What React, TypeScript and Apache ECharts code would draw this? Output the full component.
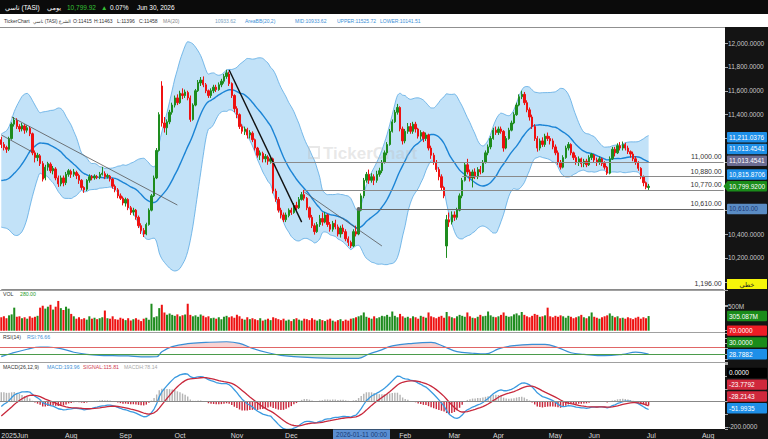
import React, { useEffect, useRef } from "react";
import * as echarts from "echarts";

const FONT = "'Liberation Sans', 'DejaVu Sans', Arial, sans-serif";
const UP = "#1e8c1e";
const DOWN = "#ee1111";

// ---- time axis (trading days per month) ----
const monthLabels = ["2025Jun", "Jul", "Aug", "Sep", "Oct", "Nov", "Dec", "Jan", "Feb", "Mar", "Apr", "May", "Jun", "Jul", "Aug"];
const monthTradingDays = [4, 23, 21, 21, 22, 21, 23, 21, 19, 17, 22, 15, 22, 22, 7];
const hiddenMonthLabels = [1, 7]; // Jul 2025 (crowded) and Jan (under the crosshair tag)

// ---- daily candles [open, close, low, high] ----
const candles: number[][] = [
  [11190,11150,11120,11215],[11150,11125,11100,11170],[11125,11110,11080,11140],[11110,11200,11095,11215],[11200,11320,11190,11335],
  [11320,11355,11300,11380],[11350,11300,11280,11370],[11300,11280,11255,11320],[11280,11310,11260,11330],[11305,11270,11240,11320],
  [11270,11290,11250,11310],[11285,11240,11220,11300],[11240,11080,11060,11250],[11080,11040,11000,11100],[11040,11060,11010,11080],
  [11055,10990,10970,11070],[10990,10860,10840,11010],[10870,10960,10850,10980],[10960,10990,10930,11005],[10985,10930,10910,11000],
  [10930,10950,10900,10970],[10945,10870,10850,10960],[10870,10820,10795,10890],[10820,10870,10800,10890],[10870,10830,10800,10890],
  [10830,10900,10810,10920],[10900,10930,10880,10945],[10925,10900,10870,10940],[10900,10920,10880,10945],[10915,10890,10860,10930],
  [10890,10850,10820,10905],[10850,10790,10770,10860],[10790,10770,10745,10800],[10775,10850,10760,10860],[10850,10880,10830,10900],
  [10880,10870,10850,10895],[10870,10885,10855,10900],[10880,10875,10860,10895],[10875,10900,10860,10920],[10900,10910,10890,10962],
  [10905,10880,10860,10925],[10880,10890,10865,10905],[10885,10860,10840,10895],[10860,10800,10780,10870],[10800,10770,10750,10815],
  [10770,10720,10700,10785],[10720,10700,10685,10740],[10700,10660,10640,10715],[10660,10690,10630,10705],[10690,10620,10600,10700],
  [10620,10580,10560,10635],[10585,10600,10555,10620],[10600,10540,10520,10610],[10540,10470,10450,10555],[10470,10430,10400,10490],
  [10430,10400,10375,10450],[10400,10480,10390,10495],[10480,10600,10470,10615],[10600,10720,10590,10735],[10720,10870,10710,10890],
  [10870,11100,10860,11120],[11100,11400,11090,11420],[11640,11330,11300,11680],[11330,11290,11250,11380],[11290,11340,11230,11360],
  [11340,11420,11320,11440],[11420,11480,11400,11500],[11480,11540,11460,11560],[11540,11500,11480,11570],[11500,11580,11490,11600],
  [11575,11560,11530,11620],[11560,11590,11540,11610],[11585,11540,11520,11600],[11540,11360,11340,11560],[11360,11480,11350,11495],
  [11480,11600,11470,11615],[11600,11670,11590,11690],[11665,11690,11640,11715],[11690,11650,11630,11720],[11650,11600,11580,11665],
  [11600,11560,11540,11610],[11560,11600,11540,11620],[11600,11630,11580,11650],[11630,11610,11590,11650],[11610,11650,11600,11670],
  [11650,11680,11630,11700],[11680,11720,11660,11740],[11720,11750,11700,11775],[11740,11660,11640,11760],[11660,11560,11540,11670],
  [11560,11450,11420,11570],[11450,11400,11370,11470],[11400,11300,11280,11410],[11300,11260,11240,11320],[11260,11280,11230,11300],
  [11275,11230,11200,11290],[11230,11250,11200,11270],[11245,11190,11170,11260],[11190,11120,11100,11200],[11120,11060,11040,11130],
  [11060,11080,11020,11100],[11075,11030,11000,11090],[11030,11050,11000,11070],[11045,11010,10980,11060],[11010,11030,10990,11045],
  [11030,10760,10740,11040],[10760,10690,10670,10780],[10690,10600,10580,10710],[10600,10560,10530,10620],[10560,10520,10500,10580],
  [10520,10560,10500,10580],[10555,10600,10540,10615],[10600,10580,10560,10620],[10580,10640,10570,10660],[10640,10620,10600,10670],
  [10620,10690,10610,10710],[10690,10730,10680,10752],[10730,10700,10680,10770],[10700,10620,10600,10710],[10620,10540,10520,10630],
  [10540,10470,10450,10560],[10470,10420,10395,10490],[10420,10480,10410,10500],[10480,10530,10460,10560],[10530,10500,10470,10580],
  [10500,10560,10490,10585],[10560,10480,10460,10570],[10480,10440,10420,10500],[10440,10490,10420,10510],[10490,10460,10440,10520],
  [10460,10400,10380,10480],[10400,10450,10370,10470],[10450,10420,10400,10480],[10420,10360,10340,10440],[10360,10330,10300,10380],
  [10330,10300,10283,10345],[10300,10420,10290,10440],[10420,10400,10380,10470],[10400,10600,10390,10620],[10600,10720,10590,10740],
  [10720,10850,10700,10870],[10850,10900,10830,10920],[10900,10850,10820,10940],[10850,10880,10830,10910],[10880,10850,10810,10900],
  [10850,10900,10830,10930],[10900,10930,10880,10955],[10930,11000,10910,11020],[11000,11080,10990,11100],[11080,11150,11060,11170],
  [11150,11260,11140,11280],[11260,11340,11250,11360],[11340,11420,11330,11440],[11420,11460,11400,11490],[11460,11280,11260,11470],
  [11280,11180,11150,11300],[11180,11260,11160,11280],[11260,11300,11240,11330],[11300,11260,11240,11330],[11260,11320,11240,11340],
  [11320,11280,11250,11340],[11280,11220,11200,11290],[11220,11250,11190,11270],[11250,11200,11170,11260],[11200,11230,11180,11250],
  [11230,11120,11100,11240],[11120,11060,11030,11140],[11060,11000,10980,11080],[11000,10940,10920,11020],[10940,10880,10850,10960],
  [10880,10790,10760,10900],[10790,10720,10700,10800],[10300,10520,10200,10560],[10520,10500,10460,10580],[10500,10560,10480,10590],
  [10560,10540,10510,10590],[10540,10600,10520,10620],[10600,10720,10590,10740],[10720,10850,10700,10870],[10850,10980,10840,11000],
  [10980,10920,10900,11030],[10920,10870,10840,10940],[10870,10920,10790,10940],[10920,10880,10860,10950],[10880,10940,10860,10960],
  [10940,10920,10900,10970],[10920,11000,10910,11020],[11000,11080,10990,11100],[11080,11130,11060,11150],[11130,11200,11110,11220],
  [11200,11270,11190,11290],[11270,11250,11230,11300],[11250,11280,11230,11300],[11280,11260,11240,11300],[11260,11120,11090,11270],
  [11120,11200,11110,11220],[11200,11270,11190,11290],[11270,11330,11260,11350],[11330,11400,11320,11420],[11400,11480,11390,11500],
  [11480,11550,11470,11570],[11550,11570,11530,11600],[11570,11500,11480,11590],[11500,11440,11420,11520],[11440,11380,11350,11460],
  [11380,11300,11280,11400],[11300,11200,11180,11320],[11200,11120,11090,11220],[11120,11180,11100,11200],[11180,11150,11130,11210],
  [11150,11220,11130,11240],[11220,11200,11180,11250],[11200,11180,11150,11220],[11180,11130,11110,11200],[11130,11080,11060,11150],
  [11080,11000,10980,11100],[11000,10960,10940,11020],[10960,11040,10950,11060],[11040,11120,11030,11140],[11120,11150,11100,11170],
  [11150,11080,11060,11160],[11080,11040,11020,11090],[11040,11000,10980,11060],[11000,11030,10970,11050],[11030,10990,10960,11040],
  [10990,11010,10960,11030],[11010,10980,10960,11030],[10980,11040,10970,11060],[11040,11070,11020,11080],[11060,11020,11000,11070],
  [11020,11000,10970,11040],[11000,11030,10980,11050],[11030,10990,10970,11040],[10990,10960,10940,11010],[10960,10910,10895,10970],
  [10910,11030,10900,11050],[11030,11110,11020,11130],[11110,11080,11050,11130],[11080,11140,11070,11160],[11140,11120,11100,11170],
  [11120,11150,11100,11175],[11150,11120,11100,11165],[11120,11090,11070,11140],[11090,11070,11040,11100],[11070,11030,11010,11090],
  [11030,11000,10980,11050],[11000,10950,10930,11010],[10950,10880,10860,10960],[10880,10830,10800,10890],[10830,10792,10775,10840],
  [10790,10799.92,10770,10820]
];

// closes of the sessions before the window (only used to seed the indicators)
const preCloses = [11450,11420,11400,11380,11350,11320,11300,11280,11250,11200,11150,
  11050,11020,10980,10950,10900,10850,10780,10700,10620,10560,10520,10580,10650,10720,10800,10900,11000,11080,11150];

// ---- volume (millions) ----
const volumes = [
  280,300,260,320,340,480,290,300,260,280, 250,300,270,290,310,480,520,460,500,540,
  440,500,620,470,430,500,460,350,300,250, 280,240,260,230,300,250,270,240,260,280,
  420,260,250,300,240,230,270,250,220,260, 210,240,260,230,200,250,270,230,560,280,
  300,470,540,380,330,360,330,310,340,300, 320,340,560,330,300,320,290,340,310,280,
  300,260,270,250,280,240,290,310,280,300, 270,330,300,250,230,280,240,260,240,220,
  260,210,230,250,220,280,260,240,220,250, 210,230,200,240,260,230,210,250,240,220,
  260,230,210,240,220,200,230,250,210,190, 220,240,200,230,210,250,260,280,300,320,
  380,290,270,250,300,260,280,310,300,330, 290,400,310,280,350,300,270,290,260,300,
  280,250,310,290,270,380,300,280,260,290, 310,270,390,300,280,260,300,330,310,290,
  380,300,270,260,290,330,300,310,400,320, 290,280,300,330,380,310,290,300,340,360,
  320,390,330,300,280,310,350,330,290,300, 320,480,300,280,310,290,320,300,270,310,
  290,260,280,300,330,280,260,300,380,290, 270,250,280,300,320,360,310,280,300,260,
  270,250,280,260,240,270,290,250,280,260, 305.087
];

// ---- RSI(14): [session index, value] ----
const rsiPoints: number[][] = [
  [0,15],[4,34],[10,57],[15,70],[18,70],[23,61],[28,40],[33,28],[38,22],[43,20],[49,18.6],[54,13],[60,14],[62,43],
  [66,72],[72,89],[79,96],[87,100],[92,91],[97,62],[103,37],[108,22],[113,15],[120,9],[128,5],[138,5],[142,30],
  [146,49],[151,76],[159,91],[166,96],[171,72],[176,43],[182,34],[187,30],[192,59],[197,76],[205,85],[210,85],
  [215,66],[220,37],[225,28],[233,20],[240,28],[245,40],[250,28.7882]
];

// ---- drawings ----
const hLines = [
  { value: 11000, from: 104, text: "11,000.00" },
  { value: 10880, from: 178, text: "10,880.00" },
  { value: 10770, from: 117, text: "10,770.00" },
  { value: 10610, from: 138, text: "10,610.00", dot: true },
  { value: 9940, from: 0, text: "1,196.00" },
];
const trendLines = [
  { from: [0, 11230], to: [12, 11087], width: 0.8, color: "#555" },
  { from: [4, 11380], to: [68, 10643], width: 0.8, color: "#555" },
  { from: [88, 11774], to: [116, 10500], width: 1.4, color: "#111" },
  { from: [117, 10752], to: [147, 10300], width: 0.8, color: "#555" },
];

// ---- right-axis value tags (top to bottom) ----
const priceTags = [
  { value: 11211.0376, text: "11,211.0376", bg: "#1e8fe8", fg: "#fff" },
  { value: 11013.4541, text: "11,013.4541", bg: "#1e8fe8", fg: "#fff" },
  { value: 11013.4541, text: "11,013.4541", bg: "#6c6c92", fg: "#fff" },
  { value: 10815.8706, text: "10,815.8706", bg: "#1e8fe8", fg: "#fff" },
  { value: 10799.92, text: "10,799.9200", bg: "#1a8c1a", fg: "#fff", arrow: true },
  { value: 10610, text: "10,610.00", bg: "#5a8cc4", fg: "#1a3a78" },
];
const volumeTags = [{ value: 305.087, text: "305.087M", bg: "#1a8c1a", fg: "#fff" }];
const rsiTags = [
  { value: 70, text: "70.0000", bg: "#ee1c25", fg: "#fff" },
  { value: 30, text: "30.0000", bg: "#1a8c1a", fg: "#fff" },
  { value: 28.7882, text: "28.7882", bg: "#1e8fe8", fg: "#fff" },
];
const macdTags = [
  { value: 0, text: "0.0000", bg: "#000", fg: "#fff" },
  { value: -23.7792, text: "-23.7792", bg: "#d0283c", fg: "#fff" },
  { value: -28.2143, text: "-28.2143", bg: "#d0283c", fg: "#fff" },
  { value: -51.9935, text: "-51.9935", bg: "#1e8fe8", fg: "#fff" },
];

// ---- header texts ----
const headerRow1 = [
  { x: 5, text: "تاسي (TASI)", color: "#fff" },
  { x: 47, text: "يومي", color: "#fff" },
  { x: 67, text: "10,799.92", color: "#35c035" },
  { x: 101, text: "▲", color: "#35c035" },
  { x: 110, text: "0.07%", color: "#fff" },
  { x: 137, text: "Jun 30, 2026", color: "#fff" },
];
const headerRow2 = [
  { x: 4, text: "TickerChart", color: "#333" },
  { x: 33, text: "تاسي (TASI) الشرع", color: "#333" },
  { x: 73, text: "O:11415", color: "#333" },
  { x: 94, text: "H:11463", color: "#333" },
  { x: 117, text: "L:11396", color: "#333" },
  { x: 139, text: "C:11458", color: "#333" },
  { x: 163, text: "MA(20)", color: "#888" },
  { x: 215, text: "10933.62", color: "#7a9fc0" },
  { x: 245, text: "AreaBB(20,2)", color: "#3d8fd6" },
  { x: 295, text: "MID:10933.62", color: "#3d8fd6" },
  { x: 337, text: "UPPER:11525.72", color: "#3d8fd6" },
  { x: 380, text: "LOWER:10141.51", color: "#3d8fd6" },
];
const panelTitles = [
  { x: 3, y: 294, text: "VOL", color: "#333" },
  { x: 20, y: 294, text: "280.00", color: "#2a9a2a" },
  { x: 3, y: 337, text: "RSI(14)", color: "#333" },
  { x: 27, y: 337, text: "RSI:76.66", color: "#3d8fd6" },
  { x: 3, y: 367, text: "MACD(26,12,9)", color: "#333" },
  { x: 47, y: 367, text: "MACD:193.96", color: "#3d8fd6" },
  { x: 83, y: 367, text: "SIGNAL:115.81", color: "#d04050" },
  { x: 124, y: 367, text: "MACDH:78.14", color: "#aaa" },
];

// ---- categories ----
const categories: string[] = [];
const monthStart: Record<number, string> = {};
monthLabels.forEach((m, mi) => {
  for (let d = 0; d < monthTradingDays[mi]; d++) {
    if (d === 0 && hiddenMonthLabels.indexOf(mi) < 0) monthStart[categories.length] = m;
    categories.push(mi + "-" + d);
  }
});

const fmt4 = (v: number) => v.toLocaleString("en-US", { minimumFractionDigits: 4, maximumFractionDigits: 4 });

function ema(arr: number[], n: number) {
  const k = 2 / (n + 1);
  const out = [arr[0]];
  for (let i = 1; i < arr.length; i++) out.push(arr[i] * k + out[i - 1] * (1 - k));
  return out;
}

const priceFmt = (v: number) => (v >= 10000 && v <= 12000 ? fmt4(v) : "");
const volFmt = (v: number) => (v === 500 ? "500M" : "");
const rsiFmt = (v: number) => (v === 0 ? "0.0000" : "");
const macdFmt = (v: number) => (v === 0 ? "0.0000" : v === -200 ? "-200.0000" : "");

function buildOption(): any {
  const n = candles.length;
  const closes = candles.map((c) => c[1]);
  const all = preCloses.concat(closes);
  const P = preCloses.length;
  const mid: number[] = [], lower: number[] = [], band: number[] = [];
  for (let i = 0; i < n; i++) {
    const w = all.slice(i + P - 19, i + P + 1);
    const m = w.reduce((a, b) => a + b, 0) / w.length;
    const sd = Math.sqrt(w.reduce((a, b) => a + (b - m) * (b - m), 0) / w.length);
    mid.push(m);
    lower.push(m - 2 * sd);
    band.push(4 * sd);
  }
  const e12 = ema(all, 12), e26 = ema(all, 26);
  const macdAll = e12.map((v, i) => v - e26[i]);
  const sigAll = ema(macdAll, 9);
  const macd = macdAll.slice(P), signal = sigAll.slice(P);
  const hist = macd.map((v, i) => v - signal[i]);
  const last = categories.length - 1;

  const grid = (top: number, height: number) => ({ left: 0, right: 43, top, height, containLabel: false, outerBoundsMode: "none" });
  const xAx = (gi: number, show: boolean) => ({
    type: "category", gridIndex: gi, data: categories, boundaryGap: true, show,
    axisLine: { show: false }, axisTick: { show: false }, splitLine: { show: false }, z: 10,
    axisLabel: {
      show, color: "#d8d8d8", fontSize: 7, margin: 3, fontFamily: FONT, alignMinLabel: "left",
      interval: (i: number) => monthStart[i] !== undefined,
      formatter: (_v: string, i: number) => monthStart[i] || "",
    },
  });
  const yAx = (gi: number, min: number, max: number, formatter: (v: number) => string, interval?: number) => ({
    type: "value", gridIndex: gi, position: "right", min, max, interval, z: 10,
    splitLine: { show: false }, axisLine: { show: false },
    axisTick: { show: true, length: 3, lineStyle: { color: "#aaa" } },
    axisLabel: { color: "#c8c8c8", fontSize: 6.5, margin: 3, fontFamily: FONT, formatter },
  });

  const mlData: any[] = [];
  trendLines.forEach((t) => mlData.push([
    { coord: t.from, lineStyle: { color: t.color, width: t.width, type: "solid" } },
    { coord: t.to },
  ]));
  hLines.forEach((h) => mlData.push([
    {
      coord: [h.from, h.value], symbol: h.dot ? "circle" : "none", symbolSize: 4,
      lineStyle: { color: h.dot ? "#666" : "#8a8a8a", width: 1, type: "solid" },
      label: { show: true, position: "insideEndTop", formatter: h.text, color: "#333", fontSize: 7, fontFamily: FONT, distance: 2 },
    },
    { coord: [last, h.value], symbol: "none" },
  ]));

  return {
    animation: false,
    textStyle: { fontFamily: FONT },
    grid: [grid(19.12, 286.56), grid(289.9, 40.8), grid(333, 29), grid(363, 66)],
    xAxis: [xAx(0, false), xAx(1, false), xAx(2, false), xAx(3, true)],
    yAxis: [
      yAx(0, 9800, 12200, priceFmt, 200),
      yAx(1, 0, 850, volFmt, 500),
      yAx(2, -16, 150, rsiFmt),
      yAx(3, -216, 306, macdFmt),
    ],
    series: [
      {
        type: "line", name: "bbLower", xAxisIndex: 0, yAxisIndex: 0, data: lower, stack: "bb", smooth: 0.3,
        symbol: "none", lineStyle: { color: "#5aa9e3", width: 0.8 }, z: 1, silent: true,
      },
      {
        type: "line", name: "bbBand", xAxisIndex: 0, yAxisIndex: 0, data: band, stack: "bb", smooth: 0.3,
        symbol: "none", lineStyle: { color: "#5aa9e3", width: 0.8 }, areaStyle: { color: "#c2e2f8", opacity: 1 }, z: 1, silent: true,
      },
      {
        type: "line", name: "MA20", xAxisIndex: 0, yAxisIndex: 0, data: mid, smooth: 0.3,
        symbol: "none", lineStyle: { color: "#1b84d5", width: 1.4 }, z: 2, silent: true,
      },
      {
        type: "candlestick", name: "TASI", xAxisIndex: 0, yAxisIndex: 0, data: candles, barWidth: "72%", z: 4,
        itemStyle: { color: UP, color0: DOWN, borderColor: UP, borderColor0: DOWN, borderWidth: 1 },
        markLine: { silent: true, symbol: ["none", "none"], animation: false, label: { show: false }, data: mlData },
      },
      {
        type: "bar", name: "VOL", xAxisIndex: 1, yAxisIndex: 1, barWidth: "78%",
        data: volumes.map((v, i) => ({ value: v, itemStyle: { color: candles[i][1] >= candles[i][0] ? UP : DOWN } })),
      },
      {
        type: "line", name: "RSIup", xAxisIndex: 2, yAxisIndex: 2, smooth: 0.4, symbol: "none", z: 2,
        data: rsiPoints.map(([i, v]) => [i, Math.max(v, 70)]), lineStyle: { width: 0 },
        areaStyle: { origin: 70, color: "rgba(238,150,150,0.6)" },
      },
      {
        type: "line", name: "RSIdn", xAxisIndex: 2, yAxisIndex: 2, smooth: 0.4, symbol: "none", z: 2,
        data: rsiPoints.map(([i, v]) => [i, Math.min(v, 30)]), lineStyle: { width: 0 },
        areaStyle: { origin: 30, color: "rgba(140,200,140,0.55)" },
      },
      {
        type: "line", name: "RSI", xAxisIndex: 2, yAxisIndex: 2, smooth: 0.4, symbol: "none", z: 3,
        data: rsiPoints, lineStyle: { color: "#3a8fd6", width: 1.2 },
        markLine: {
          silent: true, symbol: ["none", "none"], label: { show: false },
          data: [
            { yAxis: 70, lineStyle: { color: "#e06666", width: 1, type: "solid" } },
            { yAxis: 30, lineStyle: { color: "#4b9b4b", width: 1, type: "solid" } },
          ],
        },
      },
      {
        type: "bar", name: "MACDH", xAxisIndex: 3, yAxisIndex: 3, barWidth: "55%",
        data: hist.map((v) => ({ value: v, itemStyle: { color: v >= 0 ? "#b4b4b4" : "#c8283c" } })),
        markLine: {
          silent: true, symbol: ["none", "none"], label: { show: false },
          data: [{ yAxis: 0, lineStyle: { color: "#888", width: 1, type: "solid" } }],
        },
      },
      {
        type: "line", name: "MACD", xAxisIndex: 3, yAxisIndex: 3, data: macd, symbol: "none", z: 3,
        lineStyle: { color: "#3a9ae0", width: 1.3 },
      },
      {
        type: "line", name: "SIGNAL", xAxisIndex: 3, yAxisIndex: 3, data: signal, symbol: "none", z: 3,
        lineStyle: { color: "#c8283c", width: 1.3 },
      },
    ],
  };
}

function tagEls(chart: any, yAxisIndex: number, tags: any[]) {
  const els: any[] = [];
  const centers: number[] = [];
  let prev = Infinity;
  for (let k = tags.length - 1; k >= 0; k--) {
    const t = tags[k];
    const yTrue = chart.convertToPixel({ yAxisIndex }, t.value) as number;
    const cy = Math.min(yTrue, prev - 11.8);
    prev = cy;
    centers.push(cy);
    els.push({ type: "rect", shape: { x: 727, y: cy - 5.2, width: 40, height: 10.4, r: 1 }, style: { fill: t.bg }, z: 60 });
    if (t.arrow) {
      els.push({ type: "polygon", shape: { points: [[723.5, cy], [727.5, cy - 5.2], [727.5, cy + 5.2]] }, style: { fill: t.bg }, z: 60 });
    }
    els.push({
      type: "text", x: 729, y: cy, z: 61,
      style: { text: t.text, fill: t.fg, fontSize: 6.5, fontFamily: FONT, align: "left", verticalAlign: "middle" },
    });
  }
  return { els, centers };
}

// hide the tick labels that sit under a value tag
function maskFmt(chart: any, yAxisIndex: number, base: (v: number) => string, centers: number[]) {
  return (v: number) => {
    const s = base(v);
    if (!s) return s;
    const y = chart.convertToPixel({ yAxisIndex }, v) as number;
    return centers.some((c) => Math.abs(c - y) < 8) ? "" : s;
  };
}

export default function App() {
  const ref = useRef<HTMLDivElement>(null);
  useEffect(() => {
    const chart = echarts.init(ref.current!, null, { renderer: "svg" });
    chart.setOption(buildOption());

    const txt = (x: number, y: number, text: string, fill: string, size: number, z = 52) => ({
      type: "text", x, y, z, style: { text, fill, fontSize: size, fontFamily: FONT, align: "left", verticalAlign: "middle" },
    });
    const hline = (y: number, x2 = 725, color = "#a0a0a0") => ({
      type: "line", z: 6, shape: { x1: 0, y1: y, x2, y2: y }, style: { stroke: color, lineWidth: 1 },
    });
    const pt = tagEls(chart, 0, priceTags);
    const vt = tagEls(chart, 1, volumeTags);
    const rt = tagEls(chart, 2, rsiTags);
    const mt = tagEls(chart, 3, macdTags);
    const badgeY = 284;

    const els: any[] = [
      { type: "rect", z: 50, shape: { x: 0, y: 0, width: 768, height: 14 }, style: { fill: "#0b0b0b" } },
      { type: "rect", z: 50, shape: { x: 0, y: 14, width: 768, height: 13 }, style: { fill: "#ffffff" } },
      { type: "rect", z: 5, shape: { x: 725, y: 27, width: 43, height: 402 }, style: { fill: "#141414" } },
      { type: "rect", z: 5, shape: { x: 0, y: 429, width: 768, height: 10 }, style: { fill: "#141414" } },
      hline(27.5, 725, "#909090"),
      hline(290.5),
      hline(332.5),
      hline(362.5),
      { type: "rect", z: 3, shape: { x: 309, y: 147, width: 10, height: 11 }, style: { fill: "none", stroke: "rgba(190,190,190,0.35)", lineWidth: 2 } },
      {
        type: "text", x: 323, y: 153, z: 3,
        style: { text: "TickerChart", fill: "rgba(190,190,190,0.35)", fontSize: 17, fontWeight: "bold", fontFamily: FONT, align: "left", verticalAlign: "middle" },
      },
      { type: "rect", z: 60, shape: { x: 727, y: badgeY - 5, width: 40, height: 10 }, style: { fill: "#f5f50a" } },
      { type: "text", x: 747, y: badgeY, z: 61, style: { text: "خطي", fill: "#222", fontSize: 6.5, fontFamily: FONT, align: "center", verticalAlign: "middle" } },
      { type: "rect", z: 60, shape: { x: 333, y: 429.5, width: 57, height: 9.5 }, style: { fill: "#5b8fd2" } },
      { type: "text", x: 361.5, y: 434.3, z: 61, style: { text: "2026-01-11 00:00", fill: "#183c78", fontSize: 6.5, fontFamily: FONT, align: "center", verticalAlign: "middle" } },
    ];
    headerRow1.forEach((h) => els.push(txt(h.x, 7, h.text, h.color, 6.5)));
    headerRow2.forEach((h) => els.push(txt(h.x, 21, h.text, h.color, h.text.match(/[\u0600-\u06FF]/) ? 4.6 : 5)));
    panelTitles.forEach((p) => els.push(txt(p.x, p.y, p.text, p.color, 5.2)));
    els.push(...pt.els, ...vt.els, ...rt.els, ...mt.els);

    chart.setOption({
      yAxis: [
        { axisLabel: { formatter: maskFmt(chart, 0, priceFmt, pt.centers.concat([badgeY])) } },
        { axisLabel: { formatter: maskFmt(chart, 1, volFmt, vt.centers) } },
        { axisLabel: { formatter: maskFmt(chart, 2, rsiFmt, rt.centers) } },
        { axisLabel: { formatter: maskFmt(chart, 3, macdFmt, mt.centers) } },
      ],
      graphic: { elements: els },
    });
    return () => chart.dispose();
  }, []);
  return <div ref={ref} style={{ position: "fixed", left: 0, top: 0, width: 768, height: 439, background: "#fff" }} />;
}
